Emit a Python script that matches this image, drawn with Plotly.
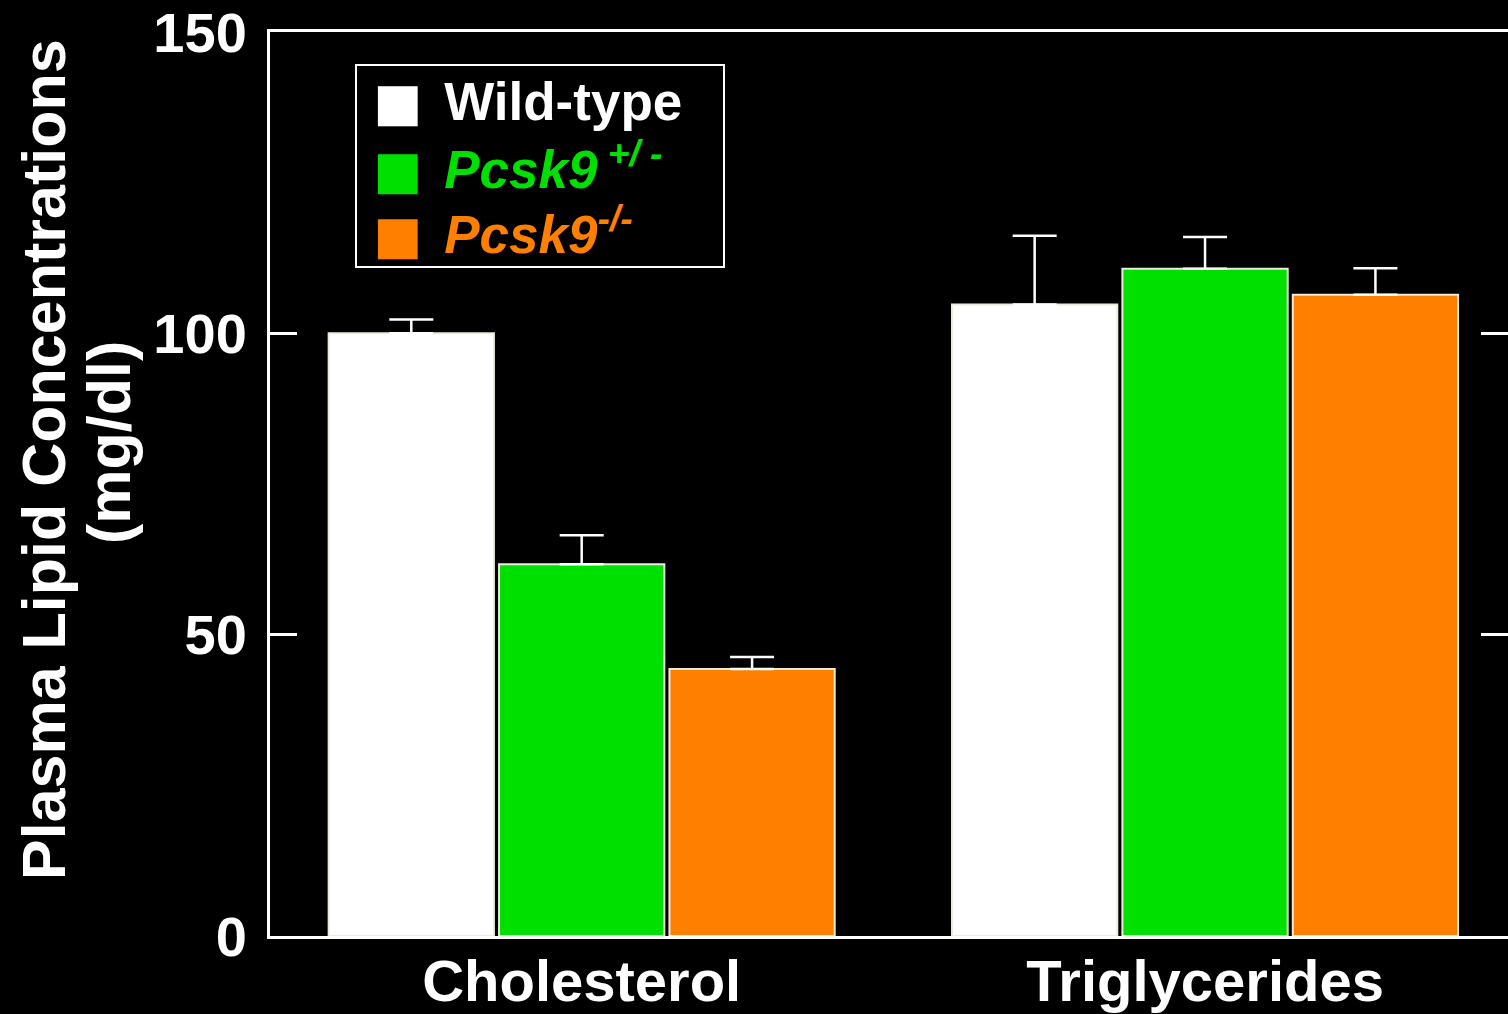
import plotly.graph_objects as go

categories = ["Cholesterol", "Triglycerides"]
wild_type = [100.0, 104.8]
wild_type_err = [2.3, 11.4]
het = [61.7, 110.7]
het_err = [4.8, 5.3]
ko = [44.3, 106.4]
ko_err = [2.0, 4.4]
y_ticks = [0, 50, 100, 150]

WHITE = "#ffffff"
GREEN = "#00e000"
ORANGE = "#ff8000"
FONT = "Liberation Sans, Arial, sans-serif"

fig = go.Figure()
for name, vals, errs, col in [
    ("Wild-type", wild_type, wild_type_err, WHITE),
    ("Pcsk9+/-", het, het_err, GREEN),
    ("Pcsk9-/-", ko, ko_err, ORANGE),
]:
    fig.add_trace(go.Bar(
        x=categories, y=vals, name=name,
        marker=dict(color=col, line=dict(color="#ecebdc", width=2)),
        error_y=dict(type="data", array=errs, arrayminus=[0] * len(errs),
                     symmetric=False, color=WHITE, thickness=2.5, width=22),
        showlegend=False,
    ))

SQ = "font-family:DejaVu Sans;font-size:52px"
GAP = "\u2005\u2006"
legend_rows = [
    (WHITE, "<b>Wild-type</b>", 0.9229),
    (GREEN, "<b><i>Pcsk9</i></b><b><i><sup> +/ -</sup></i></b>", 0.8520),
    (ORANGE, "<b><i>Pcsk9</i></b><b><i><sup>-/-</sup></i></b>", 0.7802),
]

annotations = [
    dict(
        text="<b>Plasma Lipid Concentrations</b>",
        xref="paper", yref="paper", x=0, y=0.5,
        xanchor="center", yanchor="middle", xshift=-226, yshift=24,
        textangle=-90, showarrow=False,
        font=dict(family=FONT, size=61, color=WHITE),
    ),
    dict(
        text="<b>(mg/dl)</b>",
        xref="paper", yref="paper", x=0, y=0.5,
        xanchor="center", yanchor="middle", xshift=-161, yshift=41,
        textangle=-90, showarrow=False,
        font=dict(family=FONT, size=61, color=WHITE),
    ),
    dict(
        text="&nbsp;",
        xref="paper", yref="paper", x=0.2181, y=0.8518,
        xanchor="center", yanchor="middle",
        width=366, height=200,
        bordercolor=WHITE, borderwidth=2, borderpad=0,
        showarrow=False, font=dict(size=10),
    ),
]
for col, label, ypos in legend_rows:
    annotations.append(dict(
        text=f"<span style='color:{col};{SQ}'>■</span>{GAP}<span style='color:{col}'>{label}</span>",
        xref="paper", yref="paper", x=0.0815, y=ypos,
        xanchor="left", yanchor="middle", align="left",
        showarrow=False,
        font=dict(family=FONT, size=53, color=col),
    ))

fig.update_layout(
    width=1508, height=1014,
    margin=dict(l=270, r=0, t=32, b=78),
    paper_bgcolor="black", plot_bgcolor="black",
    barmode="group", bargap=0.18, bargroupgap=0.03,
    font=dict(family=FONT, color=WHITE),
    xaxis=dict(
        type="category", range=[-0.5, 1.486], automargin=False,
        showline=True, linecolor=WHITE, linewidth=3, mirror=True,
        ticks="", showgrid=False, zeroline=False,
        tickfont=dict(family=FONT, size=58, color=WHITE, weight="bold"),
        ticklabelstandoff=-8,
    ),
    yaxis=dict(
        range=[0, 150], tickvals=y_ticks, automargin=False,
        showline=True, linecolor=WHITE, linewidth=3, mirror="ticks",
        ticks="inside", ticklen=27, tickwidth=3, tickcolor=WHITE,
        showgrid=False, zeroline=False,
        tickfont=dict(family=FONT, size=56, color=WHITE, weight="bold"),
        ticklabelstandoff=9,
    ),
    annotations=annotations,
)

fig.write_html(
    "out.html",
    config={"displayModeBar": False},
    post_script="document.body.style.margin='0';document.body.style.background='black';",
)
